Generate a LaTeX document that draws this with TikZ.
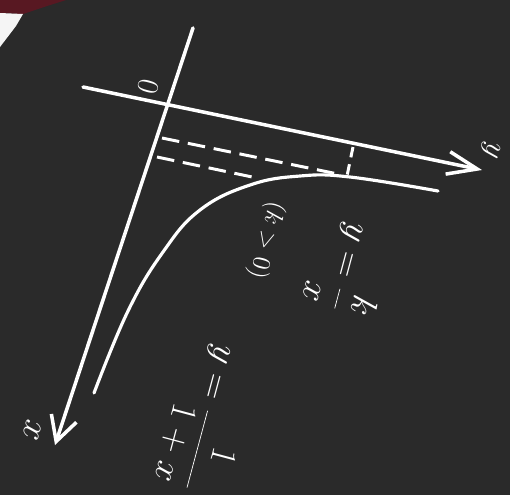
\documentclass[tikz,border=0pt]{standalone}
\usetikzlibrary{arrows.meta}
\definecolor{board}{RGB}{42,42,42}
\definecolor{maroon}{RGB}{88,24,34}
\tikzset{
  chalk/.style={draw=white, line width=2pt, line cap=round},
  chalkdash/.style={draw=white, line width=1.7pt, dash pattern=on 10pt off 5pt},
  lbl/.style={text=white, rotate=-105, inner sep=0pt},
}
\begin{document}
\begin{tikzpicture}[x=0.02cm, y=-0.02cm]
  % background
  \fill[board] (0,0) rectangle (510,495);
  \useasboundingbox (0,0) rectangle (510,495);
  % photo fragment at the corner
  \fill[maroon] (0,0) -- (66,0) -- (44,7) -- (23,14) -- (0,13) -- cycle;
  \fill[white!92!gray] (0,13) -- (23,14) -- (16,26) -- (0,47) -- cycle;

  % axis end points
  \coordinate (ys) at (83,87);
  \coordinate (ye) at (482,170);
  \coordinate (xs) at (193,28);
  \coordinate (xe) at (55,445);

  % axes
  \draw[chalk, -{Straight Barb[length=17pt, width=13pt, line width=2pt]}] (ys) -- (ye);
  \draw[chalk, -{Straight Barb[length=14pt, width=15pt, line width=2pt]}] (xs) -- (xe);

  % curve
  \draw[chalk, line width=1.8pt] plot[smooth, tension=0.7] coordinates
    {(94,393) (128,311) (163,252) (200,210) (250,185) (300,176) (350,177) (438,191)};

  % dashed guides
  \coordinate (d1a) at (162,138);
  \coordinate (d1b) at (338,174);
  \coordinate (d2a) at (157,157);
  \coordinate (d2b) at (257,178);
  \coordinate (pa) at (353,147);
  \coordinate (pb) at (347,176);
  \draw[chalkdash] (d1a) -- (d1b);
  \draw[chalkdash] (d2a) -- (d2b);
  \draw[draw=white, line width=1.7pt, dash pattern=on 6pt off 4pt] (pa) -- (pb);

  % labels
  \node[lbl, font=\fontsize{18}{20}\selectfont] (o) at (148,87) {$0$};
  \node[lbl, font=\fontsize{18}{20}\selectfont] (ylab) at (490,150) {$y$};
  \node[lbl, font=\fontsize{20}{22}\selectfont] (xlab) at (32,430) {$x$};
  \node[lbl, font=\fontsize{15}{18}\selectfont] (kpos) at (266,240) {$(k>0)$};
  \node[lbl, font=\fontsize{22}{26}\selectfont] (eq1) at (349,268) {$y=\displaystyle\frac{k}{x}$};
  \node[lbl, font=\fontsize{22}{26}\selectfont] (eq2) at (207,418) {$y=\displaystyle\frac{1}{1+x}$};
\end{tikzpicture}
\end{document}
